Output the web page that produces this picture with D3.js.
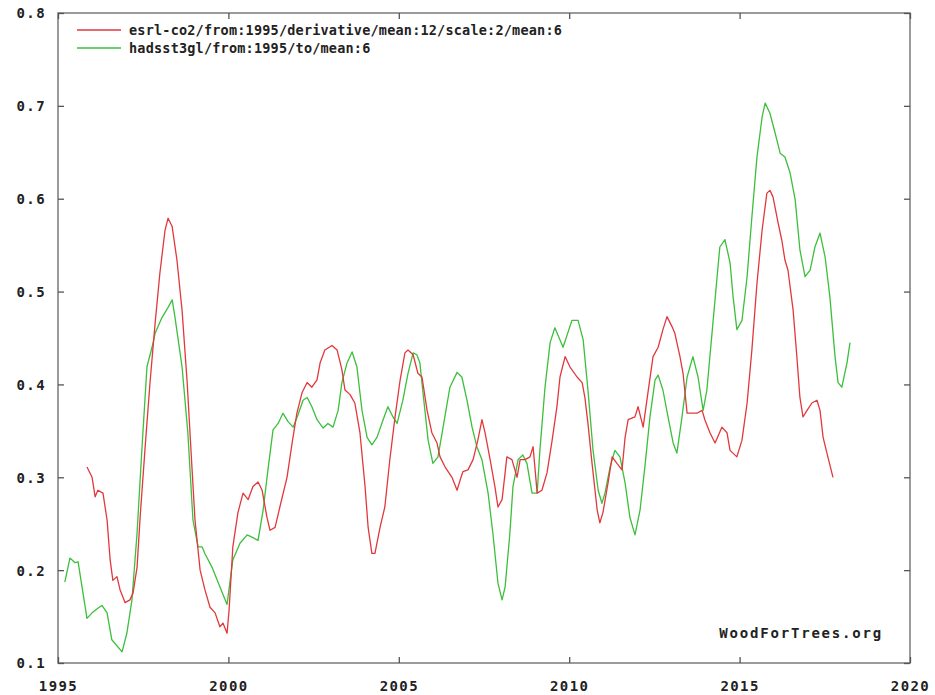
<!DOCTYPE html>
<html>
<head>
<meta charset="utf-8">
<script src="https://cdn.jsdelivr.net/npm/d3@7"></script>
<style>
  html, body { margin: 0; padding: 0; background: #fff; }
  svg { display: block; }
  .lbl { font-family: "DejaVu Sans Mono", "Liberation Mono", monospace; font-weight: bold; fill: #222; }
</style>
</head>
<body>
<svg id="chart" width="935" height="695"></svg>
<script>
// Series labels (legend)
const seriesNames = [
  "esrl-co2/from:1995/derivative/mean:12/scale:2/mean:6",
  "hadsst3gl/from:1995/to/mean:6"
];

// esrl-co2 derivative (scaled), decimal year / value
const co2Years = [1995.85,1996.00,1996.09,1996.17,1996.32,1996.44,1996.53,1996.61,1996.73,1996.82,1996.97,1997.11,1997.20,1997.32,1997.41,1997.55,1997.70,1997.85,1997.99,1998.14,1998.23,1998.35,1998.49,1998.64,1998.79,1998.93,1999.02,1999.17,1999.31,1999.46,1999.61,1999.75,1999.84,1999.96,2000.02,2000.13,2000.28,2000.43,2000.58,2000.72,2000.87,2000.99,2001.13,2001.22,2001.37,2001.51,2001.72,2001.87,2002.01,2002.16,2002.31,2002.45,2002.60,2002.69,2002.83,2003.04,2003.19,2003.33,2003.42,2003.57,2003.71,2003.86,2004.01,2004.10,2004.21,2004.30,2004.45,2004.59,2004.74,2004.89,2005.04,2005.18,2005.27,2005.42,2005.56,2005.68,2005.83,2005.97,2006.12,2006.21,2006.36,2006.56,2006.71,2006.80,2006.88,2007.03,2007.18,2007.32,2007.44,2007.53,2007.68,2007.82,2007.91,2008.03,2008.12,2008.17,2008.32,2008.47,2008.56,2008.70,2008.85,2008.94,2009.06,2009.20,2009.35,2009.50,2009.64,2009.73,2009.88,2010.02,2010.23,2010.38,2010.46,2010.55,2010.67,2010.82,2010.90,2010.99,2011.14,2011.26,2011.40,2011.55,2011.64,2011.73,2011.93,2012.02,2012.17,2012.31,2012.46,2012.61,2012.75,2012.87,2013.02,2013.10,2013.25,2013.34,2013.46,2013.60,2013.75,2013.90,2013.98,2014.13,2014.28,2014.48,2014.63,2014.72,2014.92,2015.07,2015.22,2015.36,2015.51,2015.66,2015.80,2015.89,2015.98,2016.13,2016.24,2016.33,2016.42,2016.57,2016.68,2016.77,2016.86,2016.98,2017.12,2017.27,2017.36,2017.45,2017.59,2017.74];
const co2Values = [0.311,0.300,0.279,0.286,0.283,0.254,0.211,0.189,0.193,0.179,0.165,0.168,0.175,0.203,0.257,0.329,0.402,0.466,0.520,0.566,0.579,0.570,0.534,0.480,0.402,0.311,0.254,0.200,0.179,0.160,0.154,0.139,0.143,0.132,0.157,0.225,0.262,0.283,0.276,0.290,0.295,0.286,0.257,0.243,0.246,0.268,0.300,0.337,0.369,0.391,0.402,0.397,0.405,0.423,0.437,0.442,0.437,0.416,0.394,0.389,0.380,0.348,0.290,0.246,0.218,0.218,0.246,0.268,0.320,0.365,0.405,0.434,0.437,0.432,0.412,0.408,0.372,0.348,0.337,0.322,0.311,0.300,0.286,0.297,0.306,0.308,0.319,0.340,0.362,0.348,0.319,0.290,0.268,0.276,0.305,0.322,0.319,0.300,0.319,0.319,0.322,0.333,0.283,0.286,0.305,0.340,0.376,0.408,0.430,0.419,0.408,0.402,0.386,0.358,0.315,0.265,0.251,0.262,0.294,0.322,0.315,0.308,0.343,0.362,0.365,0.376,0.354,0.391,0.430,0.440,0.459,0.473,0.462,0.455,0.430,0.412,0.369,0.369,0.369,0.372,0.362,0.348,0.337,0.354,0.348,0.329,0.322,0.340,0.380,0.437,0.509,0.566,0.606,0.609,0.602,0.574,0.555,0.534,0.523,0.480,0.430,0.386,0.365,0.372,0.380,0.383,0.372,0.343,0.322,0.300];

// hadsst3gl global sea surface temperature anomaly, decimal year / value
const sstYears = [1995.20,1995.35,1995.50,1995.59,1995.85,1996.00,1996.17,1996.29,1996.44,1996.58,1996.88,1997.02,1997.17,1997.32,1997.46,1997.61,1997.76,1997.85,1998.05,1998.23,1998.35,1998.43,1998.64,1998.81,1998.96,1999.11,1999.23,1999.31,1999.52,1999.75,1999.96,2000.13,2000.34,2000.55,2000.72,2000.87,2001.02,2001.16,2001.31,2001.46,2001.60,2001.75,2001.90,2002.04,2002.19,2002.31,2002.45,2002.60,2002.78,2002.92,2003.07,2003.22,2003.33,2003.48,2003.63,2003.77,2003.92,2004.07,2004.21,2004.36,2004.54,2004.68,2004.83,2004.95,2005.12,2005.27,2005.42,2005.53,2005.62,2005.71,2005.86,2006.00,2006.15,2006.30,2006.50,2006.71,2006.85,2007.00,2007.15,2007.29,2007.44,2007.62,2007.76,2007.91,2008.03,2008.12,2008.26,2008.35,2008.50,2008.64,2008.76,2008.91,2009.06,2009.14,2009.29,2009.44,2009.58,2009.82,2010.08,2010.26,2010.41,2010.55,2010.70,2010.85,2010.96,2011.05,2011.20,2011.34,2011.49,2011.64,2011.78,2011.93,2012.08,2012.22,2012.37,2012.52,2012.61,2012.75,2012.90,2013.05,2013.16,2013.31,2013.46,2013.63,2013.78,2013.93,2014.04,2014.19,2014.34,2014.42,2014.57,2014.72,2014.81,2014.92,2015.07,2015.22,2015.36,2015.51,2015.66,2015.75,2015.89,2016.04,2016.19,2016.33,2016.48,2016.63,2016.77,2016.92,2017.07,2017.21,2017.36,2017.51,2017.65,2017.80,2017.89,2018.00,2018.15,2018.24];
const sstValues = [0.187,0.213,0.208,0.209,0.148,0.154,0.159,0.162,0.154,0.125,0.112,0.132,0.168,0.240,0.329,0.419,0.440,0.455,0.472,0.483,0.491,0.473,0.419,0.348,0.254,0.225,0.225,0.218,0.203,0.182,0.163,0.211,0.229,0.238,0.235,0.232,0.265,0.308,0.351,0.358,0.369,0.360,0.354,0.367,0.383,0.386,0.376,0.362,0.353,0.358,0.354,0.372,0.402,0.423,0.435,0.419,0.372,0.343,0.335,0.343,0.362,0.376,0.365,0.358,0.383,0.412,0.434,0.432,0.423,0.391,0.340,0.315,0.322,0.354,0.397,0.413,0.408,0.383,0.354,0.333,0.319,0.283,0.240,0.186,0.168,0.182,0.240,0.290,0.319,0.324,0.315,0.283,0.283,0.329,0.397,0.445,0.461,0.440,0.469,0.469,0.448,0.394,0.329,0.286,0.272,0.283,0.311,0.329,0.322,0.294,0.257,0.238,0.265,0.311,0.365,0.405,0.410,0.394,0.365,0.337,0.326,0.365,0.408,0.430,0.408,0.372,0.394,0.455,0.516,0.548,0.556,0.531,0.494,0.459,0.469,0.516,0.580,0.645,0.688,0.703,0.692,0.671,0.649,0.645,0.628,0.599,0.545,0.516,0.523,0.548,0.563,0.537,0.494,0.430,0.402,0.397,0.423,0.445];

// Axis ticks
const xTicks = [1995, 2000, 2005, 2010, 2015, 2020];
const yTicks = [0.1, 0.2, 0.3, 0.4, 0.5, 0.6, 0.7, 0.8];
const seriesColors = ["#e2383c", "#3cbf3c"];
const credit = "WoodForTrees.org";

const svg = d3.select("#chart");
const plot = { left: 58, right: 910, top: 13, bottom: 663 };

const x = d3.scaleLinear().domain([1995, 2020]).range([plot.left, plot.right]);
const y = d3.scaleLinear().domain([0.1, 0.8]).range([plot.bottom, plot.top]);

// Frame
svg.append("rect")
  .attr("x", plot.left).attr("y", plot.top)
  .attr("width", plot.right - plot.left).attr("height", plot.bottom - plot.top)
  .attr("fill", "none").attr("stroke", "#7a7a7a").attr("stroke-width", 1.5);

const tickLen = 6;
const styleAxis = g => {
  g.select(".domain").remove();
  g.selectAll(".tick line").attr("stroke", "#555").attr("stroke-width", 1.3);
};

// Bottom axis (inward ticks) with year labels
svg.append("g")
  .attr("transform", `translate(0,${plot.bottom})`)
  .call(d3.axisBottom(x).tickValues(xTicks).tickSize(-tickLen).tickFormat(d3.format("d")))
  .call(styleAxis)
  .call(g => g.selectAll(".tick text")
    .attr("class", "lbl").attr("y", 23).attr("dy", "0.35em")
    .style("font-size", "14px").style("letter-spacing", "1.4px"));

// Top axis mirror ticks
svg.append("g")
  .attr("transform", `translate(0,${plot.top})`)
  .call(d3.axisTop(x).tickValues(xTicks).tickSize(-tickLen).tickFormat(""))
  .call(styleAxis);

// Left axis with value labels
svg.append("g")
  .attr("transform", `translate(${plot.left},0)`)
  .call(d3.axisLeft(y).tickValues(yTicks).tickSize(-tickLen).tickFormat(d3.format(".1f")))
  .call(styleAxis)
  .call(g => g.selectAll(".tick text")
    .attr("class", "lbl").attr("x", -12).attr("dy", "0.35em")
    .style("font-size", "14px").style("letter-spacing", "1.4px"));

// Right axis mirror ticks
svg.append("g")
  .attr("transform", `translate(${plot.right},0)`)
  .call(d3.axisRight(y).tickValues(yTicks).tickSize(-tickLen).tickFormat(""))
  .call(styleAxis);

// Series lines
const line = d3.line().x(d => x(d[0])).y(d => y(d[1]));
const co2 = co2Years.map((yr, i) => [yr, co2Values[i]]);
const sst = sstYears.map((yr, i) => [yr, sstValues[i]]);

[sst, co2].forEach((data, k) => {
  svg.append("path")
    .datum(data)
    .attr("fill", "none")
    .attr("stroke", seriesColors[1 - k])
    .attr("stroke-width", 1.3)
    .attr("stroke-linejoin", "round")
    .attr("d", line);
});

// Legend
const legend = svg.append("g");
seriesNames.forEach((name, i) => {
  const yy = 30 + i * 18;
  legend.append("line")
    .attr("x1", 77).attr("x2", 121).attr("y1", yy).attr("y2", yy)
    .attr("stroke", seriesColors[i]).attr("stroke-width", 1.3);
  legend.append("text")
    .attr("class", "lbl")
    .attr("x", 129).attr("y", yy).attr("dy", "0.35em")
    .style("font-size", "13.5px").style("letter-spacing", "0.2px")
    .text(name);
});

// Credit
svg.append("text")
  .attr("class", "lbl")
  .attr("x", 883).attr("y", 633).attr("dy", "0.35em")
  .attr("text-anchor", "end")
  .style("font-size", "14px").style("letter-spacing", "1.8px")
  .text(credit);
</script>
</body>
</html>
